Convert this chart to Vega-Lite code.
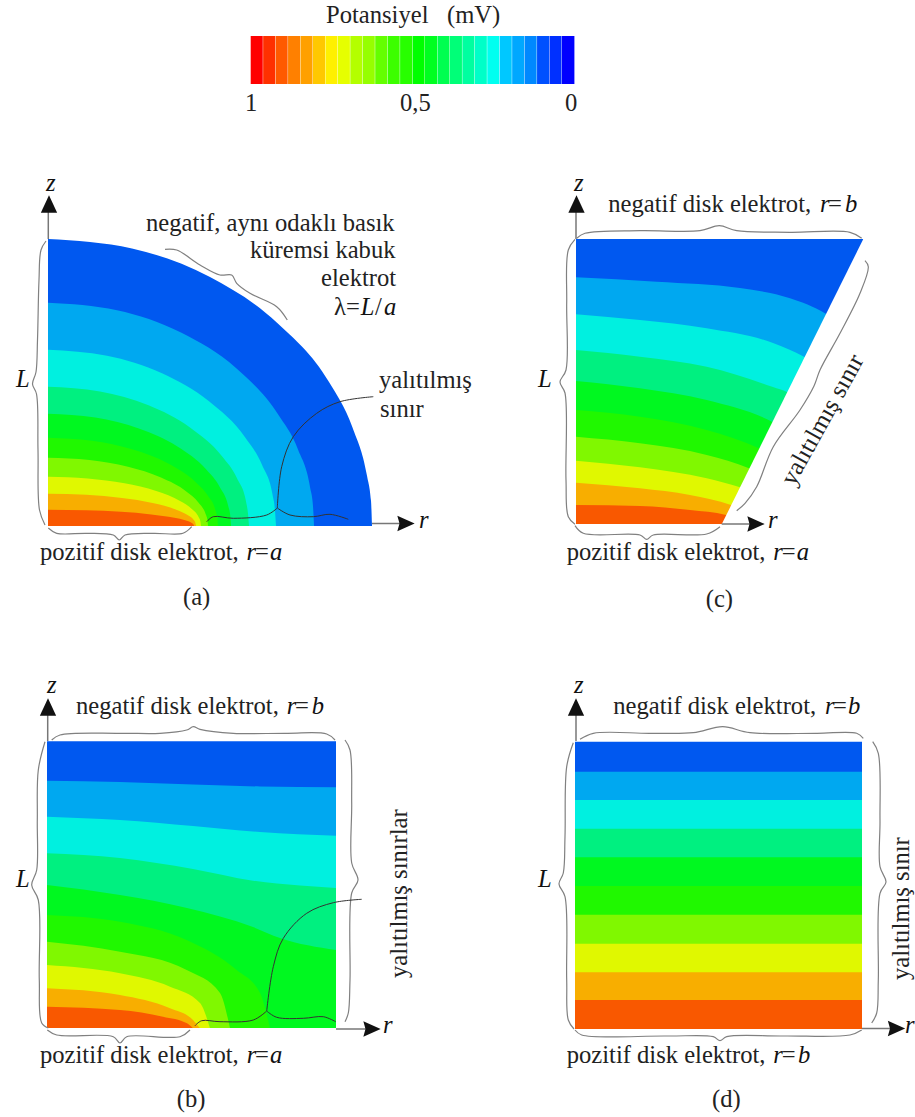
{"$schema":"https://vega.github.io/schema/vega-lite/v6.json","autosize":{"type":"none"},"width":915,"height":1117,"padding":0,"background":"white","config":{"view":{"stroke":null}},
"datasets":{
"a":[
{"v":0.05,"x":48,"y":239},{"v":0.05,"x":132,"y":248.5},{"v":0.05,"x":210,"y":277},{"v":0.05,"x":277,"y":322.7},{"v":0.05,"x":329,"y":382},{"v":0.05,"x":352.5,"y":427.5},{"v":0.05,"x":367,"y":475.7},{"v":0.05,"x":371,"y":500.7},{"v":0.05,"x":372,"y":525.7},
{"v":0.15,"x":48,"y":302.7},{"v":0.15,"x":117,"y":310.3},{"v":0.15,"x":181,"y":332.6},{"v":0.15,"x":236,"y":368},{"v":0.15,"x":278,"y":414.2},{"v":0.15,"x":298,"y":449.4},{"v":0.15,"x":310,"y":486.9},{"v":0.15,"x":313,"y":506.3},{"v":0.15,"x":314,"y":525.7},
{"v":0.25,"x":48,"y":349.7},{"v":0.25,"x":107,"y":355.7},{"v":0.25,"x":162,"y":373.3},{"v":0.25,"x":209,"y":401.3},{"v":0.25,"x":245.4,"y":437.7},{"v":0.25,"x":262.3,"y":465.5},{"v":0.25,"x":272.6,"y":495.1},{"v":0.25,"x":275,"y":510.4},{"v":0.25,"x":276,"y":525.7},
{"v":0.35,"x":48,"y":386.7},{"v":0.35,"x":100,"y":391.4},{"v":0.35,"x":148.5,"y":405.3},{"v":0.35,"x":190,"y":427.4},{"v":0.35,"x":222,"y":456.2},{"v":0.35,"x":237,"y":478.2},{"v":0.35,"x":246,"y":501.5},{"v":0.35,"x":248,"y":513.6},{"v":0.35,"x":249,"y":525.7},
{"v":0.45,"x":48,"y":413.7},{"v":0.45,"x":95.4,"y":417.5},{"v":0.45,"x":139.5,"y":428.7},{"v":0.45,"x":177.4,"y":446.5},{"v":0.45,"x":206.5,"y":469.7},{"v":0.45,"x":220,"y":487.4},{"v":0.45,"x":228.3,"y":506.2},{"v":0.45,"x":230.3,"y":516},{"v":0.45,"x":231,"y":525.7},
{"v":0.55,"x":48,"y":437.7},{"v":0.55,"x":92,"y":440.7},{"v":0.55,"x":133,"y":449.5},{"v":0.55,"x":168.2,"y":463.5},{"v":0.55,"x":195.2,"y":481.7},{"v":0.55,"x":207.8,"y":495.6},{"v":0.55,"x":215.5,"y":510.4},{"v":0.55,"x":217.3,"y":518},{"v":0.55,"x":218,"y":525.7},
{"v":0.65,"x":48,"y":457.7},{"v":0.65,"x":89.4,"y":460},{"v":0.65,"x":128,"y":466.8},{"v":0.65,"x":161,"y":477.6},{"v":0.65,"x":186.6,"y":491.7},{"v":0.65,"x":198.4,"y":502.4},{"v":0.65,"x":205.6,"y":513.9},{"v":0.65,"x":207.4,"y":519.8},{"v":0.65,"x":208,"y":525.7},
{"v":0.75,"x":48,"y":476.7},{"v":0.75,"x":87.6,"y":478.4},{"v":0.75,"x":124.5,"y":483.3},{"v":0.75,"x":156.2,"y":491},{"v":0.75,"x":180.5,"y":501.2},{"v":0.75,"x":191.8,"y":508.9},{"v":0.75,"x":198.7,"y":517.2},{"v":0.75,"x":200.4,"y":521.4},{"v":0.75,"x":201,"y":525.7},
{"v":0.85,"x":48,"y":493.7},{"v":0.85,"x":86.3,"y":494.8},{"v":0.85,"x":122,"y":498},{"v":0.85,"x":152.6,"y":503},{"v":0.85,"x":176.2,"y":509.7},{"v":0.85,"x":187.1,"y":514.8},{"v":0.85,"x":193.8,"y":520.1},{"v":0.85,"x":195.4,"y":522.9},{"v":0.85,"x":196,"y":525.7},
{"v":0.95,"x":48,"y":509.7},{"v":0.95,"x":85.8,"y":510.2},{"v":0.95,"x":121,"y":511.8},{"v":0.95,"x":151.2,"y":514.4},{"v":0.95,"x":174.4,"y":517.7},{"v":0.95,"x":185.2,"y":520.2},{"v":0.95,"x":191.8,"y":522.9},{"v":0.95,"x":193.4,"y":524.3},{"v":0.95,"x":194,"y":525.7}],
"b":[
{"v":0.05,"x":47,"y":741.3},{"v":0.05,"x":336,"y":741.3},
{"v":0.15,"x":47,"y":780.7},{"v":0.15,"x":120,"y":782},{"v":0.15,"x":193,"y":784.5},{"v":0.15,"x":260,"y":786.5},{"v":0.15,"x":336,"y":787.3},
{"v":0.25,"x":47,"y":816.7},{"v":0.25,"x":120,"y":820},{"v":0.25,"x":193,"y":826},{"v":0.25,"x":260,"y":832},{"v":0.25,"x":336,"y":835.7},
{"v":0.35,"x":47,"y":853.3},{"v":0.35,"x":120,"y":858},{"v":0.35,"x":193,"y":869},{"v":0.35,"x":253,"y":880.7},{"v":0.35,"x":300,"y":885.5},{"v":0.35,"x":336,"y":888},
{"v":0.45,"x":47,"y":885},{"v":0.45,"x":120,"y":895},{"v":0.45,"x":187,"y":908},{"v":0.45,"x":253,"y":927},{"v":0.45,"x":280,"y":938},{"v":0.45,"x":336,"y":950},
{"v":0.55,"x":47,"y":915},{"v":0.55,"x":120,"y":921.7},{"v":0.55,"x":186.7,"y":940},{"v":0.55,"x":236.7,"y":970},{"v":0.55,"x":260,"y":993},{"v":0.55,"x":270,"y":1028.3},
{"v":0.65,"x":47,"y":941.7},{"v":0.65,"x":120,"y":951.7},{"v":0.65,"x":186.7,"y":970},{"v":0.65,"x":220,"y":993},{"v":0.65,"x":230,"y":1028.3},
{"v":0.75,"x":47,"y":965},{"v":0.75,"x":120,"y":973.3},{"v":0.75,"x":170,"y":986.7},{"v":0.75,"x":200,"y":1003},{"v":0.75,"x":210,"y":1028.3},
{"v":0.85,"x":47,"y":988.3},{"v":0.85,"x":120,"y":995},{"v":0.85,"x":170,"y":1008.3},{"v":0.85,"x":193,"y":1020},{"v":0.85,"x":200,"y":1028.3},
{"v":0.95,"x":47,"y":1006.7},{"v":0.95,"x":120,"y":1010},{"v":0.95,"x":163,"y":1016.7},{"v":0.95,"x":187,"y":1023.3},{"v":0.95,"x":193,"y":1028.3}],
"c":[
{"v":0.05,"x":576,"y":239},{"v":0.05,"x":863.3,"y":239},
{"v":0.15,"x":576,"y":277.3},{"v":0.15,"x":656.7,"y":281.7},{"v":0.15,"x":740,"y":288},{"v":0.15,"x":790,"y":298.3},{"v":0.15,"x":825,"y":313.3},{"v":0.15,"x":835,"y":320},
{"v":0.25,"x":576,"y":314.3},{"v":0.25,"x":640,"y":320},{"v":0.25,"x":706.7,"y":328.3},{"v":0.25,"x":773,"y":343},{"v":0.25,"x":804,"y":356.7},{"v":0.25,"x":812,"y":361},
{"v":0.35,"x":576,"y":350},{"v":0.35,"x":640,"y":356.7},{"v":0.35,"x":706.7,"y":366.7},{"v":0.35,"x":773,"y":387},{"v":0.35,"x":787,"y":392},{"v":0.35,"x":795,"y":396},
{"v":0.45,"x":576,"y":381},{"v":0.45,"x":640,"y":388.3},{"v":0.45,"x":706.7,"y":400},{"v":0.45,"x":772,"y":421.7},{"v":0.45,"x":780,"y":426},
{"v":0.55,"x":576,"y":410},{"v":0.55,"x":640,"y":416.7},{"v":0.55,"x":706.7,"y":430},{"v":0.55,"x":759,"y":448.3},{"v":0.55,"x":767,"y":452},
{"v":0.65,"x":576,"y":436.7},{"v":0.65,"x":640,"y":443.3},{"v":0.65,"x":706.7,"y":455},{"v":0.65,"x":749,"y":468.3},{"v":0.65,"x":757,"y":472},
{"v":0.75,"x":576,"y":460.7},{"v":0.75,"x":640,"y":467.3},{"v":0.75,"x":706.7,"y":478.3},{"v":0.75,"x":740,"y":487.3},{"v":0.75,"x":748,"y":490},
{"v":0.85,"x":576,"y":482.7},{"v":0.85,"x":640,"y":488.3},{"v":0.85,"x":690,"y":495},{"v":0.85,"x":731,"y":505},{"v":0.85,"x":739,"y":508},
{"v":0.95,"x":576,"y":505},{"v":0.95,"x":640,"y":506},{"v":0.95,"x":690,"y":510},{"v":0.95,"x":726,"y":515},{"v":0.95,"x":734,"y":518}],
"d":[
{"v":0.05,"x":575,"y":741.7},{"v":0.05,"x":862,"y":741.7},
{"v":0.15,"x":575,"y":771.7},{"v":0.15,"x":862,"y":771.7},
{"v":0.25,"x":575,"y":800},{"v":0.25,"x":862,"y":800},
{"v":0.35,"x":575,"y":828.7},{"v":0.35,"x":862,"y":828.7},
{"v":0.45,"x":575,"y":857.3},{"v":0.45,"x":862,"y":857.3},
{"v":0.55,"x":575,"y":886},{"v":0.55,"x":862,"y":886},
{"v":0.65,"x":575,"y":914.7},{"v":0.65,"x":862,"y":914.7},
{"v":0.75,"x":575,"y":943.7},{"v":0.75,"x":862,"y":943.7},
{"v":0.85,"x":575,"y":972.3},{"v":0.85,"x":862,"y":972.3},
{"v":0.95,"x":575,"y":1000},{"v":0.95,"x":862,"y":1000}],
"bar":[
{"n":1,"x":250.7,"x2":262.75,"y":36,"y2":84},{"n":2,"x":263.15,"x2":275.2,"y":36,"y2":84},{"n":3,"x":275.6,"x2":287.65,"y":36,"y2":84},{"n":4,"x":288.05,"x2":300.1,"y":36,"y2":84},{"n":5,"x":300.5,"x2":312.55,"y":36,"y2":84},{"n":6,"x":312.95,"x2":325,"y":36,"y2":84},{"n":7,"x":325.4,"x2":337.45,"y":36,"y2":84},{"n":8,"x":337.85,"x2":349.9,"y":36,"y2":84},{"n":9,"x":350.3,"x2":362.35,"y":36,"y2":84},{"n":10,"x":362.75,"x2":374.8,"y":36,"y2":84},{"n":11,"x":375.2,"x2":387.25,"y":36,"y2":84},{"n":12,"x":387.65,"x2":399.7,"y":36,"y2":84},{"n":13,"x":400.1,"x2":412.15,"y":36,"y2":84},{"n":14,"x":412.55,"x2":424.6,"y":36,"y2":84},{"n":15,"x":425,"x2":437.05,"y":36,"y2":84},{"n":16,"x":437.45,"x2":449.5,"y":36,"y2":84},{"n":17,"x":449.9,"x2":461.95,"y":36,"y2":84},{"n":18,"x":462.35,"x2":474.4,"y":36,"y2":84},{"n":19,"x":474.8,"x2":486.85,"y":36,"y2":84},{"n":20,"x":487.25,"x2":499.3,"y":36,"y2":84},{"n":21,"x":499.7,"x2":511.75,"y":36,"y2":84},{"n":22,"x":512.15,"x2":524.2,"y":36,"y2":84},{"n":23,"x":524.6,"x2":536.65,"y":36,"y2":84},{"n":24,"x":537.05,"x2":549.1,"y":36,"y2":84},{"n":25,"x":549.5,"x2":561.55,"y":36,"y2":84},{"n":26,"x":561.95,"x2":574.4,"y":36,"y2":84}],
"axes":[
{"s":"a1","x":48.3,"y":239},{"s":"a1","x":48.3,"y":208},
{"s":"a2","x":372,"y":523.5},{"s":"a2","x":400,"y":523.5},
{"s":"b1","x":47.7,"y":741},{"s":"b1","x":47.7,"y":712},
{"s":"b2","x":336,"y":1029},{"s":"b2","x":366,"y":1029},
{"s":"c1","x":576,"y":239},{"s":"c1","x":576,"y":208},
{"s":"c2","x":721.7,"y":524},{"s":"c2","x":750,"y":524},
{"s":"d1","x":576,"y":741},{"s":"d1","x":576,"y":712},
{"s":"d2","x":862,"y":1028.5},{"s":"d2","x":890,"y":1028.5}],
"heads":[
{"dir":"up","x":49,"y":204},{"dir":"right","x":406,"y":523.5},
{"dir":"up","x":48,"y":707},{"dir":"right","x":372,"y":1029},
{"dir":"up","x":576.5,"y":204},{"dir":"right","x":756,"y":524},
{"dir":"up","x":576,"y":707},{"dir":"right","x":896.5,"y":1028.5}],
"braces":[
{"s":"aL","x":46,"y":241},{"s":"aL","x":41,"y":250},{"s":"aL","x":39,"y":280},{"s":"aL","x":37.5,"y":340},{"s":"aL","x":36,"y":372},{"s":"aL","x":32.5,"y":384},{"s":"aL","x":36.5,"y":394},{"s":"aL","x":38,"y":450},{"s":"aL","x":39.5,"y":510},{"s":"aL","x":45,"y":525},
{"s":"aB","x":48.3,"y":528},{"s":"aB","x":56.7,"y":533.3},{"s":"aB","x":86.7,"y":533.3},{"s":"aB","x":113.3,"y":535},{"s":"aB","x":119.3,"y":540},{"s":"aB","x":125,"y":535},{"s":"aB","x":153.3,"y":533.3},{"s":"aB","x":183,"y":533.3},{"s":"aB","x":191.7,"y":526.7},
{"s":"aT","x":165,"y":249.3},{"s":"aT","x":176.7,"y":250},{"s":"aT","x":200,"y":265},{"s":"aT","x":220,"y":275},{"s":"aT","x":231.7,"y":275},{"s":"aT","x":236.7,"y":283.3},{"s":"aT","x":250,"y":293.3},{"s":"aT","x":276.7,"y":306.7},{"s":"aT","x":287.3,"y":320},
{"s":"bL","x":45,"y":741.7},{"s":"bL","x":38.3,"y":770},{"s":"bL","x":37.3,"y":820},{"s":"bL","x":36.7,"y":870},{"s":"bL","x":31.7,"y":885},{"s":"bL","x":38.3,"y":900},{"s":"bL","x":39.3,"y":980},{"s":"bL","x":41.7,"y":1023},{"s":"bL","x":48.3,"y":1028},
{"s":"bT","x":51.7,"y":740},{"s":"bT","x":60,"y":735},{"s":"bT","x":120,"y":733.3},{"s":"bT","x":160,"y":733.3},{"s":"bT","x":186.7,"y":730},{"s":"bT","x":193.3,"y":726.7},{"s":"bT","x":200,"y":729.3},{"s":"bT","x":233.3,"y":733.3},{"s":"bT","x":286.7,"y":733.3},{"s":"bT","x":326.7,"y":734},{"s":"bT","x":335,"y":740},
{"s":"bR","x":345,"y":740},{"s":"bR","x":350,"y":750},{"s":"bR","x":351.7,"y":803},{"s":"bR","x":351.7,"y":863},{"s":"bR","x":358,"y":880},{"s":"bR","x":351.7,"y":893},{"s":"bR","x":350,"y":980},{"s":"bR","x":348.3,"y":1013},{"s":"bR","x":345,"y":1021.7},
{"s":"bB","x":47.3,"y":1030},{"s":"bB","x":56.7,"y":1035},{"s":"bB","x":113.3,"y":1036.7},{"s":"bB","x":120,"y":1043},{"s":"bB","x":126.7,"y":1036.7},{"s":"bB","x":180,"y":1036.7},{"s":"bB","x":190,"y":1030},
{"s":"cL","x":575,"y":239.3},{"s":"cL","x":568.3,"y":250},{"s":"cL","x":566.7,"y":303},{"s":"cL","x":566,"y":370},{"s":"cL","x":560,"y":382},{"s":"cL","x":565,"y":393},{"s":"cL","x":566,"y":480},{"s":"cL","x":568.3,"y":516.7},{"s":"cL","x":575,"y":524.3},
{"s":"cT","x":576.7,"y":238.3},{"s":"cT","x":585,"y":233.3},{"s":"cT","x":640,"y":230.7},{"s":"cT","x":700,"y":230.7},{"s":"cT","x":719.3,"y":225.7},{"s":"cT","x":736.7,"y":230.7},{"s":"cT","x":790,"y":232.3},{"s":"cT","x":850,"y":232.3},{"s":"cT","x":861.7,"y":238.3},
{"s":"cR","x":865,"y":260.7},{"s":"cR","x":868.3,"y":266.7},{"s":"cR","x":860,"y":293.3},{"s":"cR","x":840,"y":333.3},{"s":"cR","x":820,"y":370},{"s":"cR","x":814,"y":386},{"s":"cR","x":800,"y":410},{"s":"cR","x":773.3,"y":446.7},{"s":"cR","x":756.7,"y":486.7},{"s":"cR","x":745,"y":503.3},{"s":"cR","x":736.7,"y":510.7},
{"s":"cB","x":575,"y":525.7},{"s":"cB","x":583.3,"y":533.3},{"s":"cB","x":640,"y":535},{"s":"cB","x":646.7,"y":539.3},{"s":"cB","x":653.3,"y":535},{"s":"cB","x":706.7,"y":534},{"s":"cB","x":720,"y":526.7},
{"s":"dL","x":573.3,"y":742.7},{"s":"dL","x":566.7,"y":766.7},{"s":"dL","x":565,"y":836.7},{"s":"dL","x":563.3,"y":873},{"s":"dL","x":559,"y":884},{"s":"dL","x":565,"y":896.7},{"s":"dL","x":566.7,"y":980},{"s":"dL","x":568.3,"y":1020},{"s":"dL","x":574,"y":1029},
{"s":"dT","x":580,"y":739.3},{"s":"dT","x":593.3,"y":733.3},{"s":"dT","x":650,"y":733.3},{"s":"dT","x":693.3,"y":732.7},{"s":"dT","x":722.7,"y":726.7},{"s":"dT","x":750,"y":732.7},{"s":"dT","x":816.7,"y":733.3},{"s":"dT","x":856.7,"y":733.3},{"s":"dT","x":863.3,"y":738.3},
{"s":"dR","x":872.7,"y":741.7},{"s":"dR","x":878.3,"y":753.3},{"s":"dR","x":880,"y":820},{"s":"dR","x":880,"y":866.7},{"s":"dR","x":886,"y":882},{"s":"dR","x":880,"y":893.3},{"s":"dR","x":878.3,"y":980},{"s":"dR","x":876.7,"y":1013},{"s":"dR","x":871.7,"y":1023},
{"s":"dB","x":575,"y":1030},{"s":"dB","x":581.7,"y":1035},{"s":"dB","x":666.7,"y":1036},{"s":"dB","x":713.3,"y":1036.7},{"s":"dB","x":720,"y":1040.7},{"s":"dB","x":726.7,"y":1036.7},{"s":"dB","x":783.3,"y":1036},{"s":"dB","x":850,"y":1035},{"s":"dB","x":861.7,"y":1030}],
"leaders":[
{"s":"a0","x":373.3,"y":396.7},{"s":"a0","x":340,"y":401.7},{"s":"a0","x":316.7,"y":413.3},{"s":"a0","x":293.3,"y":436.7},{"s":"a0","x":281.7,"y":466.7},{"s":"a0","x":277.3,"y":508},
{"s":"a1","x":277.3,"y":508},{"s":"a1","x":266.7,"y":515},{"s":"a1","x":233.3,"y":518.3},{"s":"a1","x":213.3,"y":516.7},{"s":"a1","x":206.7,"y":521.7},
{"s":"a2","x":277.3,"y":508},{"s":"a2","x":290,"y":515},{"s":"a2","x":313.3,"y":516.7},{"s":"a2","x":330,"y":514.3},{"s":"a2","x":348.3,"y":519.3},
{"s":"b0","x":361.7,"y":899.3},{"s":"b0","x":333.3,"y":902.7},{"s":"b0","x":306.7,"y":913.3},{"s":"b0","x":283.3,"y":938.3},{"s":"b0","x":273.3,"y":966.7},{"s":"b0","x":266.7,"y":1011},
{"s":"b1","x":266.7,"y":1011},{"s":"b1","x":253.3,"y":1020},{"s":"b1","x":220,"y":1021.7},{"s":"b1","x":201.7,"y":1020.7},{"s":"b1","x":195,"y":1025.7},
{"s":"b2","x":266.7,"y":1011},{"s":"b2","x":276.7,"y":1017.3},{"s":"b2","x":303.3,"y":1018.3},{"s":"b2","x":323.3,"y":1016.7},{"s":"b2","x":335.7,"y":1021.7}],
"reg":[
{"t":"Potansiyel","x":326,"y":23},{"t":"(mV)","x":447,"y":23},{"t":"1","x":245,"y":111},{"t":"0,5","x":400,"y":111},{"t":"0","x":565,"y":111},
{"t":"negatif, aynı odaklı basık","x":146,"y":230.7},{"t":"küremsi kabuk","x":250,"y":258.3},{"t":"elektrot","x":321,"y":286},{"t":"λ=","x":334,"y":315},{"t":"/","x":375,"y":315},
{"t":"yalıtılmış","x":379,"y":388},{"t":"sınır","x":380,"y":416.7},
{"t":"pozitif disk elektrot,","x":40,"y":560},{"t":"=","x":255,"y":560},{"t":"(a)","x":183,"y":605},
{"t":"negatif disk elektrot,","x":608.3,"y":211.7},{"t":"=","x":828,"y":211.7},
{"t":"pozitif disk elektrot,","x":566.7,"y":560},{"t":"=","x":781.7,"y":560},{"t":"(c)","x":705.7,"y":606.7},
{"t":"negatif disk elektrot,","x":76,"y":714},{"t":"=","x":295,"y":714},
{"t":"pozitif disk elektrot,","x":40,"y":1062.7},{"t":"=","x":255,"y":1062.7},{"t":"(b)","x":176.7,"y":1106.7},
{"t":"negatif disk elektrot,","x":613.3,"y":714},{"t":"=","x":833,"y":714},
{"t":"pozitif disk elektrot,","x":566.7,"y":1062.7},{"t":"=","x":781.7,"y":1062.7},{"t":"(d)","x":712,"y":1106.7}],
"ital":[
{"t":"L","x":360.7,"y":315},{"t":"a","x":384,"y":315},
{"t":"z","x":46,"y":190.7},{"t":"r","x":419,"y":528},{"t":"L","x":16,"y":387},{"t":"r","x":246.6,"y":560},{"t":"a","x":270,"y":560},
{"t":"z","x":574,"y":190.7},{"t":"r","x":768,"y":528},{"t":"L","x":538,"y":387},{"t":"r","x":820,"y":211.7},{"t":"b","x":845,"y":211.7},{"t":"r","x":773.3,"y":560},{"t":"a","x":796.7,"y":560},
{"t":"z","x":47,"y":693},{"t":"r","x":383,"y":1033},{"t":"L","x":16,"y":887},{"t":"r","x":286.7,"y":714},{"t":"b","x":311.7,"y":714},{"t":"r","x":246.7,"y":1062.7},{"t":"a","x":270,"y":1062.7},
{"t":"z","x":574,"y":693},{"t":"r","x":905,"y":1033},{"t":"L","x":538,"y":887},{"t":"r","x":825,"y":714},{"t":"b","x":848,"y":714},{"t":"r","x":773.3,"y":1062.7},{"t":"b","x":798,"y":1062.7}],
"rot90":[{"t":"yalıtılmış sınırlar","x":406.7,"y":978},{"t":"yalıtılmış sınır","x":909,"y":980}],
"rotS":[{"t":"yalıtılmış sınır","x":794,"y":487}],
"slant":[{"x":721.7,"y":524.3},{"x":863.3,"y":239},{"x":868,"y":238.5}]
},
"encoding":{
"x":{"field":"x","type":"quantitative","axis":null,"scale":{"domain":[0,915],"nice":false,"zero":false}},
"y":{"field":"y","type":"quantitative","axis":null,"scale":{"domain":[1117,0],"nice":false,"zero":false},"stack":null}},
"resolve":{"scale":{"color":"independent"}},
"layer":[
{"data":{"name":"bar"},"mark":{"type":"rect"},"encoding":{"x2":{"field":"x2"},"y2":{"field":"y2"},"color":{"field":"n","type":"ordinal","legend":null,"scale":{"domain":[1,2,3,4,5,6,7,8,9,10,11,12,13,14,15,16,17,18,19,20,21,22,23,24,25,26],"range":["#ff0000","#ff3000","#ff5a00","#ff8000","#ffa000","#ffc800","#fff000","#e6ff00","#b4ff00","#96ff00","#64ff00","#3cff00","#28ff00","#00ff00","#00ff20","#00ff50","#00ff78","#00ffa0","#00ffc8","#00fff0","#00c8ff","#00a8ff","#0088ff","#0050ff","#0030ff","#0000ff"]}}}},
{"data":{"name":"a"},"mark":{"type":"area","interpolate":"monotone"},"encoding":{"y2":{"datum":526},"color":{"field":"v","type":"ordinal","legend":null,"scale":{"domain":[0.05,0.15,0.25,0.35,0.45,0.55,0.65,0.75,0.85,0.95],"range":["#0058f0","#00a8f0","#00f0e0","#00f080","#00f820","#20f800","#80f800","#e0f800","#f8ae00","#f95800"]}}}},
{"data":{"name":"b"},"mark":{"type":"area","interpolate":"monotone"},"encoding":{"y2":{"datum":1028},"color":{"field":"v","type":"ordinal","legend":null,"scale":{"domain":[0.05,0.15,0.25,0.35,0.45,0.55,0.65,0.75,0.85,0.95],"range":["#0058f0","#00a8f0","#00f0e0","#00f080","#00f820","#20f800","#80f800","#e0f800","#f8ae00","#f95800"]}}}},
{"data":{"name":"c"},"mark":{"type":"area","interpolate":"monotone"},"encoding":{"y2":{"datum":524},"color":{"field":"v","type":"ordinal","legend":null,"scale":{"domain":[0.05,0.15,0.25,0.35,0.45,0.55,0.65,0.75,0.85,0.95],"range":["#0058f0","#00a8f0","#00f0e0","#00f080","#00f820","#20f800","#80f800","#e0f800","#f8ae00","#f95800"]}}}},
{"data":{"name":"slant"},"mark":{"type":"area","color":"white"},"encoding":{"y2":{"datum":525}}},
{"data":{"name":"d"},"mark":{"type":"area"},"encoding":{"y2":{"datum":1029},"color":{"field":"v","type":"ordinal","legend":null,"scale":{"domain":[0.05,0.15,0.25,0.35,0.45,0.55,0.65,0.75,0.85,0.95],"range":["#0058f0","#00a8f0","#00f0e0","#00f080","#00f820","#20f800","#80f800","#e0f800","#f8ae00","#f95800"]}}}},
{"data":{"name":"axes"},"mark":{"type":"line","color":"#777777","strokeWidth":1.5},"encoding":{"detail":{"field":"s"}}},
{"data":{"name":"heads"},"mark":{"type":"point","filled":true,"opacity":1,"color":"#111111","size":300},"encoding":{"shape":{"field":"dir","type":"nominal","legend":null,"scale":{"domain":["up","right"],"range":["M0,-1L0.94,1L-0.94,1Z","M-1,-0.9L1,0L-1,0.9L-0.75,0Z"]}}}},
{"data":{"name":"braces"},"transform":[{"window":[{"op":"row_number","as":"i"}]}],"mark":{"type":"line","color":"#808080","strokeWidth":1.2,"interpolate":"catmull-rom"},"encoding":{"detail":{"field":"s"},"order":{"field":"i","type":"quantitative"}}},
{"data":{"name":"leaders"},"transform":[{"window":[{"op":"row_number","as":"i"}]}],"mark":{"type":"line","color":"#333333","strokeWidth":1,"interpolate":"catmull-rom"},"encoding":{"detail":{"field":"s"},"order":{"field":"i","type":"quantitative"}}},
{"data":{"name":"reg"},"mark":{"type":"text","font":"Liberation Serif","fontSize":24.6,"align":"left","baseline":"alphabetic","color":"#222222"},"encoding":{"text":{"field":"t"}}},
{"data":{"name":"ital"},"mark":{"type":"text","font":"Liberation Serif","fontStyle":"italic","fontSize":24.6,"align":"left","baseline":"alphabetic","color":"#111111"},"encoding":{"text":{"field":"t"}}},
{"data":{"name":"rot90"},"mark":{"type":"text","font":"Liberation Serif","fontSize":24.6,"align":"left","baseline":"alphabetic","angle":270,"color":"#222222"},"encoding":{"text":{"field":"t"}}},
{"data":{"name":"rotS"},"mark":{"type":"text","font":"Liberation Serif","fontSize":25,"align":"left","baseline":"alphabetic","angle":299,"color":"#222222"},"encoding":{"text":{"field":"t"}}}
]}
